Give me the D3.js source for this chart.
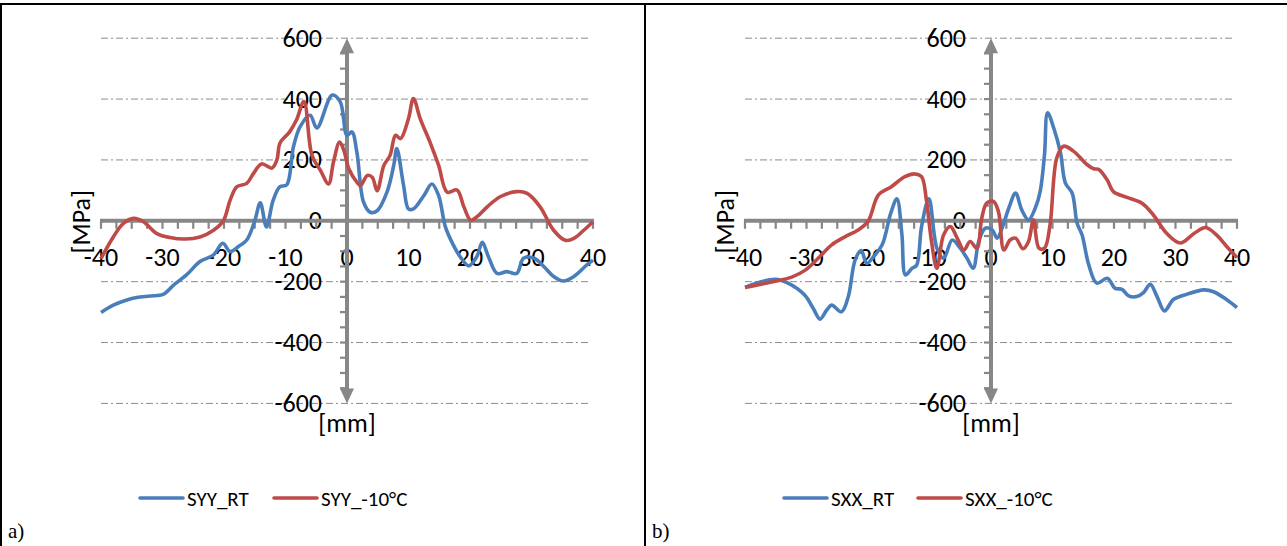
<!DOCTYPE html>
<meta charset="utf-8">
<style>

body {
  margin: 0;
  background: #fff;
}

svg {
  display: block;
  font-family: Calibri, Carlito, Lato, sans-serif;
}

.grid line {
  stroke: #8c8c8c;
  stroke-width: 1;
  stroke-dasharray: 7,3,2,3;
}

.axis {
  stroke: #878787;
  fill: none;
}

.tick-label {
  font-size: 26px;
  fill: #000;
}

.legend-label {
  font-size: 21px;
  fill: #000;
}

.series {
  fill: none;
  stroke-width: 3.6px;
  stroke-linejoin: round;
}

</style>
<body>
<script src="https://d3js.org/d3.v7.min.js"></script>
<script>

// Panel size and common tick labels
var width = 1287,
    height = 546,
    panelShift = 644;

var xTicks = [-40, -30, -20, -10, 0, 10, 20, 30, 40];
var yTicks = [600, 400, 200, 0, -200, -400, -600];

// panel a) : [mm, MPa]
var syyRT = [[-40,-301],[-38,-277],[-35.8,-260],[-34.2,-252],[-32,-247],[-29.9,-242],[-28.2,-211],
  [-26.1,-178],[-23.9,-134],[-21.7,-112],[-20.2,-74],[-19,-101],[-17.7,-85],[-16.3,-63],[-15,0],
  [-14.1,59],[-13.1,-20],[-12,68],[-10.9,112],[-9.8,118],[-8.7,244],[-7.6,310],[-6,347],[-4.9,305],
  [-2.4,413],[-1.1,391],[0,281],[0.8,292],[1.6,226],[2.7,61],[3.8,28],[4.9,33],[6.5,94],[7.6,182],
  [8.1,237],[9.2,116],[10,39],[10.8,39],[12.5,83],[13.8,121],[14.9,83],[16,-20],[17.3,-80],
  [18.4,-118],[19.8,-148],[21.1,-118],[22,-71],[23,-118],[24.4,-173],[26,-167],[27.6,-173],
  [28.7,-123],[30.4,-123],[32,-150],[33.6,-183],[35.2,-198],[36.9,-183],[39,-145],[40,-129]];

var syyCold = [[-40,-124],[-38,-53],[-36.4,-9],[-34.7,8],[-33.1,-3],[-30.9,-42],[-28.8,-55],
  [-26.3,-60],[-23.9,-53],[-21.7,-31],[-20.1,0],[-19,68],[-17.9,112],[-16.3,123],[-15.2,156],
  [-13.9,187],[-12.2,173],[-11.4,200],[-10.9,255],[-9.3,293],[-8.2,332],[-7,392],[-5.7,215],
  [-4.3,165],[-3,121],[-2.2,193],[-1.2,259],[-0.5,231],[0.3,171],[1.6,127],[2.2,116],[3.3,149],
  [4.1,143],[4.9,99],[6,182],[7,215],[7.9,281],[8.7,270],[10,336],[10.8,402],[11.9,336],
  [13.6,253],[14.9,182],[16.3,94],[17.9,101],[19,46],[20.1,2],[21.1,13],[22.8,46],[24.9,79],
  [27.6,96],[29.3,90],[31.4,46],[33.6,-31],[35.5,-64],[36.9,-58],[38.5,-31],[40,-3]];

// panel b)
var sxxRT = [[-40,-219],[-37.8,-203],[-35.1,-192],[-33,-205],[-30.3,-244],[-28.9,-288],[-27.8,-323],
  [-26.7,-293],[-25.9,-277],[-24.3,-299],[-23.2,-249],[-22.1,-129],[-21.1,-98],[-20.2,-140],
  [-19.1,-118],[-17.7,-79],[-16.3,25],[-15.3,72],[-14.5,-42],[-13.9,-178],[-12.9,-157],[-12.1,-146],
  [-11.3,-20],[-10.1,72],[-8.8,-90],[-7.7,-123],[-6.3,-63],[-5,-90],[-3.9,-123],[-2.9,-156],
  [-2,-68],[-0.9,-24],[0.2,-30],[1,-57],[1.8,-24],[2.9,42],[4,91],[5,36],[6.1,3],[7.2,42],[8,97],
  [8.7,218],[9.2,355],[10.2,305],[11.3,223],[12.1,124],[13.2,91],[14,-8],[14.8,-46],[15.9,-145],
  [17.2,-205],[18.9,-189],[20.2,-222],[21.3,-225],[22.4,-247],[23.7,-249],[24.8,-236],[25.9,-209],
  [27,-249],[28.2,-296],[29.7,-258],[31.9,-241],[34.6,-227],[36.2,-233],[38.4,-260],[40,-285]];

var sxxCold = [[-40,-219],[-35.7,-201],[-32.4,-185],[-30.2,-162],[-28.1,-123],[-25.9,-79],[-23.7,-52],
  [-21.6,-30],[-20,-2],[-18.3,85],[-16.2,112],[-14,145],[-12.4,154],[-11.3,145],[-10.5,68],[-9.7,-64],
  [-8.8,-156],[-7.7,-46],[-6.6,-19],[-5.5,-57],[-4.4,-96],[-3.4,-68],[-2.3,-90],[-1.5,9],[-0.7,58],
  [0.4,64],[1.2,31],[2.1,-96],[3.1,-63],[4,-57],[5.2,-92],[6.1,-68],[6.9,3],[7.8,-90],[8.7,-90],
  [9.6,-13],[10.7,207],[11.8,245],[13.4,229],[15.6,185],[16.7,171],[17.5,169],[18.9,134],[19.9,96],
  [22.1,77],[24.6,57],[26.4,19],[28.6,-42],[30.8,-73],[33,-42],[34.9,-22],[36.7,-47],[38.4,-86],
  [40,-121]];

var namesA = ["SYY_RT", "SYY_-10°C"],
    namesB = ["SXX_RT", "SXX_-10°C"];
var colors = ["#4A7EBB", "#BE4B48"];

var svg = d3.select("body").append("svg")
    .attr("width", width)
    .attr("height", height);

svg.append("rect").attr("width", width).attr("height", height).attr("fill", "#fff");

// frame: top, left, divider
var frame = svg.append("g").attr("stroke", "#000").attr("stroke-width", 2);
frame.append("line").attr("x1", 0).attr("x2", width).attr("y1", 4).attr("y2", 4);
frame.append("line").attr("x1", 1).attr("x2", 1).attr("y1", 3).attr("y2", height);
frame.append("line").attr("x1", 645).attr("x2", 645).attr("y1", 3).attr("y2", height);

drawPanel(0, [syyRT, syyCold], namesA, "a)");
drawPanel(panelShift, [sxxRT, sxxCold], namesB, "b)");

function drawPanel(dx, series, names, tag)
{
  var g = svg.append("g").attr("transform", "translate(" + dx + ",0)");

  var x = d3.scaleLinear().domain([-40, 40]).range([101, 593]),
      y = d3.scaleLinear().domain([-600, 600]).range([403.4, 38.2]);

  // dash-dot grid
  g.append("g").attr("class", "grid")
    .selectAll("line")
    .data(yTicks.filter(function(v) { return v != 0; }))
    .enter().append("line")
      .attr("x1", x(-40)).attr("x2", x(40) - 2)
      .attr("y1", y).attr("y2", y);

  // y tick labels
  g.selectAll(".ylab").data(yTicks).enter().append("text")
    .attr("class", "tick-label")
    .attr("text-anchor", "end")
    .attr("x", x(0) - 25)
    .attr("y", function(d) { return y(d) + 8.5; })
    .text(function(d) { return d; });

  // x tick labels
  g.selectAll(".xlab").data(xTicks).enter().append("text")
    .attr("class", "tick-label")
    .attr("text-anchor", "middle")
    .attr("x", x)
    .attr("y", y(0) + 45)
    .text(function(d) { return d; });

  var ax = g.append("g").attr("class", "axis");

  // x axis + minor ticks every 2.5 mm
  ax.append("line").attr("x1", x(-40) - 1).attr("x2", x(40) + 1)
    .attr("y1", y(0)).attr("y2", y(0)).attr("stroke-width", 4);
  ax.selectAll(".xt").data(d3.range(-40, 40.1, 2.5)).enter().append("line")
    .attr("x1", x).attr("x2", x)
    .attr("y1", y(0)).attr("y2", y(0) + 8)
    .attr("stroke-width", 2.2);

  // y axis with arrows at both ends
  ax.append("line").attr("x1", x(0)).attr("x2", x(0))
    .attr("y1", y(600) + 10).attr("y2", y(-600) - 10).attr("stroke-width", 4);
  ax.selectAll(".yt").data(d3.range(-550, 551, 50).filter(function(v) { return v % 200 != 0 || Math.abs(v) < 600; }))
    .enter().append("line")
    .attr("x1", x(0) - 7).attr("x2", x(0))
    .attr("y1", y).attr("y2", y)
    .attr("stroke-width", 2.2);
  ax.append("path")
    .attr("d", "M" + x(0) + "," + y(600) + "l7,15h-14z")
    .attr("fill", "#878787").attr("stroke", "none");
  ax.append("path")
    .attr("d", "M" + x(0) + "," + y(-600) + "l7,-15h-14z")
    .attr("fill", "#878787").attr("stroke", "none");

  // axis titles
  g.append("text")
    .attr("class", "tick-label")
    .attr("text-anchor", "middle")
    .attr("transform", "translate(90," + (y(0) + 1) + ")rotate(-90)")
    .text("[MPa]");
  g.append("text")
    .attr("class", "tick-label")
    .attr("text-anchor", "middle")
    .attr("x", x(0))
    .attr("y", 432)
    .text("[mm]");

  // data lines
  var line = d3.line()
    .x(function(d) { return x(d[0]); })
    .y(function(d) { return y(d[1]); })
    .curve(d3.curveCatmullRom.alpha(0.5));

  g.selectAll(".series").data(series).enter().append("path")
    .attr("class", "series")
    .attr("stroke", function(d, i) { return colors[i]; })
    .attr("d", line);

  // legend
  var lx = [140, 274];
  names.forEach(function(name, i) {
    g.append("line")
      .attr("x1", lx[i]).attr("x2", lx[i] + 43)
      .attr("y1", 498).attr("y2", 498)
      .attr("stroke", colors[i]).attr("stroke-width", 3.6)
      .attr("stroke-linecap", "round");
    g.append("text")
      .attr("class", "legend-label")
      .attr("x", lx[i] + 47)
      .attr("y", 506)
      .text(name);
  });

  g.append("text")
    .attr("x", 8)
    .attr("y", 538)
    .attr("font-family", "'Liberation Serif', 'Times New Roman', serif")
    .attr("font-size", 21)
    .text(tag);
}

</script>
